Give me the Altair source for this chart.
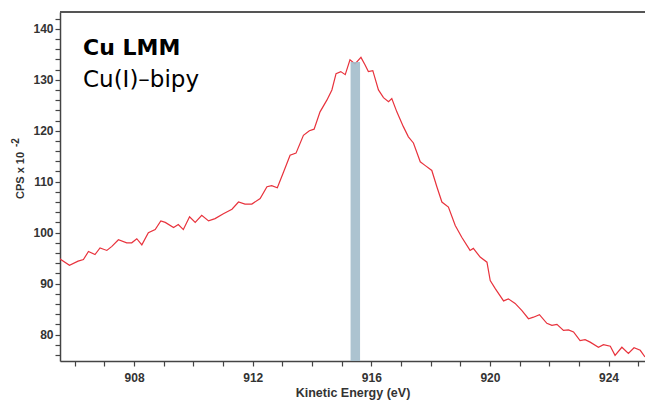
import altair as alt
import pandas as pd

# Kinetic energy (eV) and counts (CPS x 10^-2)
energy = [905.48, 905.82, 906.11, 906.29, 906.46, 906.68, 906.85, 907.08, 907.25, 907.47,
          907.75, 907.92, 908.09, 908.26, 908.48, 908.71, 908.90, 909.05, 909.33, 909.49,
          909.66, 909.87, 910.06, 910.28, 910.51, 910.73, 911.01, 911.30, 911.52, 911.74,
          911.97, 912.25, 912.48, 912.64, 912.83, 913.04, 913.26, 913.46, 913.71, 913.91,
          914.07, 914.27, 914.50, 914.67, 914.81, 914.97, 915.12, 915.28, 915.45, 915.65,
          915.79, 915.90, 916.05, 916.24, 916.41, 916.58, 916.69, 916.86, 917.08, 917.25,
          917.42, 917.65, 917.81, 918.04, 918.21, 918.38, 918.60, 918.83, 919.05, 919.33,
          919.44, 919.67, 919.90, 920.01, 920.18, 920.46, 920.62, 920.85, 921.08, 921.30,
          921.47, 921.67, 921.92, 922.09, 922.26, 922.48, 922.65, 922.82, 923.04, 923.21,
          923.38, 923.66, 923.83, 924.06, 924.22, 924.45, 924.67, 924.86, 925.07, 925.23]
cps = [94.9, 93.6, 94.4, 94.7, 96.3, 95.7, 97.0, 96.5, 97.3, 98.6,
       98.0, 98.0, 98.8, 97.6, 100.0, 100.6, 102.3, 102.0, 101.0, 101.6,
       100.6, 103.1, 102.0, 103.4, 102.3, 102.75, 103.7, 104.6, 106.0, 105.6,
       105.6, 106.7, 109.0, 109.2, 108.8, 111.9, 115.2, 115.6, 119.1, 120.0,
       120.3, 123.7, 126.0, 128.0, 131.2, 131.6, 131.0, 133.9, 133.1, 134.4,
       132.9, 131.6, 131.8, 128.0, 126.5, 125.7, 126.3, 123.7, 120.8, 118.8,
       117.6, 113.9, 113.2, 112.2, 109.0, 106.0, 105.0, 101.4, 99.1, 96.5,
       96.9, 95.2, 94.2, 90.6, 89.0, 86.6, 87.0, 86.1, 84.7, 83.1,
       83.4, 83.9, 82.2, 81.8, 82.0, 80.8, 80.9, 80.5, 78.8, 79.0,
       78.5, 77.5, 78.0, 77.7, 75.9, 77.5, 76.3, 77.4, 76.9, 75.6]

# Highlight band
band_start = [915.30]
band_end = [915.62]
band_top = [133.5]

x_domain = [905.5, 925.23]
y_domain = [74.8, 143.3]
x_ticks = list(range(906, 926))
y_ticks = list(range(76, 144, 2))

W, H = 585, 349

df = pd.DataFrame({"E": energy, "CPS": cps})
band = pd.DataFrame({"x1": band_start, "x2": band_end, "y1": [y_domain[0]], "y2": band_top})

xscale = alt.Scale(domain=x_domain, nice=False, zero=False)
yscale = alt.Scale(domain=y_domain, nice=False, zero=False)

common = dict(grid=False, tickSize=5, domainColor="#444", domainWidth=1.5,
              tickColor="#444", tickWidth=1.2, labelFont="Liberation Sans",
              labelFontWeight="bold", labelFontSize=12, labelColor="#333",
              titleFont="Liberation Sans", titleFontWeight="bold", titleColor="#333",
              labelFlush=False, labelOverlap=False)

x_axis = alt.Axis(title="Kinetic Energy (eV)", values=x_ticks,
                  labelExpr="datum.value % 4 == 0 ? datum.label : ''",
                  labelPadding=6, titlePadding=3, titleFontSize=12.5, **common)
y_axis = alt.Axis(title="CPS x 10", values=y_ticks,
                  labelExpr="datum.value % 10 == 0 ? datum.label : ''",
                  labelPadding=2, titleX=-35, titleY=163, titleFontSize=11, **common)

line = alt.Chart(df).mark_line(color="#e8323c", strokeWidth=1.2, clip=True).encode(
    x=alt.X("E:Q", scale=xscale, axis=x_axis),
    y=alt.Y("CPS:Q", scale=yscale, axis=y_axis),
)

rect = alt.Chart(band).mark_rect(color="#a3bccb", opacity=0.9).encode(
    x=alt.X("x1:Q", scale=xscale, axis=x_axis), x2="x2:Q",
    y=alt.Y("y1:Q", scale=yscale, axis=y_axis), y2="y2:Q",
)

top_border = alt.Chart(band).mark_rule(color="#555", strokeWidth=2).encode(
    x=alt.value(0), x2=alt.value(W), y=alt.value(0)
)

sup = alt.Chart(band).mark_text(text="-2", font="Liberation Sans", fontWeight="bold",
                                fontSize=10, angle=270, align="left", baseline="bottom",
                                color="#333").encode(x=alt.value(-39), y=alt.value(135))

t1 = alt.Chart(band).mark_text(text="Cu LMM", font="DejaVu Sans", fontWeight="bold",
                               fontSize=22, align="left", baseline="alphabetic",
                               color="#000").encode(x=alt.value(23), y=alt.value(43))
t2 = alt.Chart(band).mark_text(text="Cu(I)–bipy", font="DejaVu Sans", fontSize=23,
                               align="left", baseline="alphabetic",
                               color="#000").encode(x=alt.value(23), y=alt.value(75))

chart = alt.layer(line, rect, top_border, sup, t1, t2).properties(
    width=W, height=H,
    autosize=alt.AutoSizeParams(type="none"),
    padding={"left": 60, "top": 12, "right": 0, "bottom": 41},
).configure_view(stroke=None).configure_axis(labelOverlap=False).configure(background="white")

chart.save("out.html", embed_options={"renderer": "svg", "actions": False})
